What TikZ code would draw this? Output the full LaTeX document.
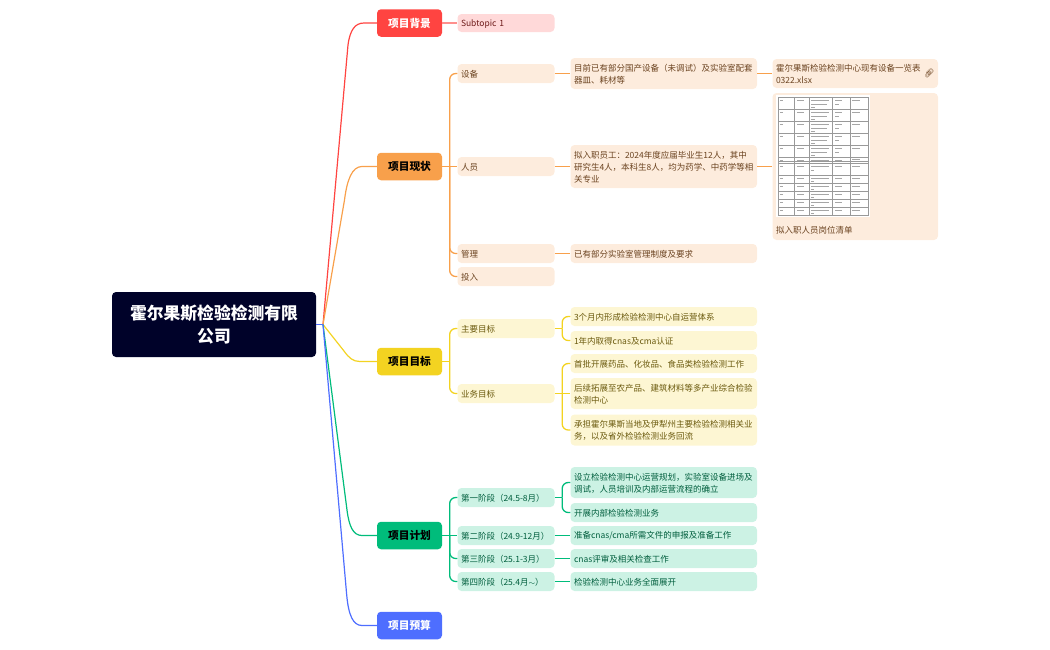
\documentclass[tikz,border=0pt]{standalone}
\usepackage{fontspec}
\setmainfont{Noto Sans CJK SC}
\newfontfamily\iconfont{Noto Emoji}
\definecolor{cRed}{HTML}{FF4441}
\definecolor{cOrange}{HTML}{F8A04B}
\definecolor{cYellow}{HTML}{F3D321}
\definecolor{cGreen}{HTML}{00BC7B}
\definecolor{cBlue}{HTML}{4E6EFF}
\definecolor{cRoot}{HTML}{000229}
\definecolor{fRed}{HTML}{FFD9D9}
\definecolor{fOrange}{HTML}{FDECDD}
\definecolor{fYellow}{HTML}{FDF6D3}
\definecolor{fGreen}{HTML}{CCF2E4}
\definecolor{tRed}{HTML}{6E1B1A}
\definecolor{tOrange}{HTML}{6B4320}
\definecolor{tYellow}{HTML}{6B5A0E}
\definecolor{tGreen}{HTML}{005E3D}
\tikzset{
  rootbox/.style={rectangle,rounded corners=4pt,fill=cRoot,text=white,minimum width=204pt,minimum height=65pt,inner sep=0pt,text width=196pt,align=center,font=\fontsize{16.8}{23.8}\selectfont\bfseries},
  mainbox/.style={rectangle,rounded corners=4pt,minimum width=65pt,minimum height=27.5pt,inner sep=0pt,align=center,font=\fontsize{10.7}{13}\selectfont\bfseries},
  subbox/.style 2 args={rectangle,rounded corners=4pt,fill=#1,text=#2,inner xsep=3.5pt,inner ysep=0pt,align=left,font=\fontsize{8.5}{12}\selectfont,execute at begin node={\rule{0pt}{8pt}}},
  twoR/.style={subbox={fRed}{tRed},text width=90pt,minimum height=18pt},
  twoO/.style={subbox={fOrange}{tOrange},text width=90pt,minimum height=19pt},
  twoY/.style={subbox={fYellow}{tYellow},text width=90pt,minimum height=19pt},
  twoG/.style={subbox={fGreen}{tGreen},text width=90pt,minimum height=19pt},
  threeO/.style={subbox={fOrange}{tOrange},text width=179.5pt,minimum height=19pt},
  threeY/.style={subbox={fYellow}{tYellow},text width=179.5pt,minimum height=19pt},
  threeG/.style={subbox={fGreen}{tGreen},text width=179.5pt,minimum height=19pt},
  fourO/.style={subbox={fOrange}{tOrange},text width=158.5pt},
  branch/.style={line width=1.2pt},
  link/.style={line width=1.3pt,rounded corners=6pt},
  cell/.style={line width=1pt,draw=black!35},
  grid/.style={line width=.45pt,draw=black!40}
}
\begin{document}
\begin{tikzpicture}[x=1pt,y=-1pt]
\useasboundingbox (0,0) rectangle (1050,649);
\node[rootbox] (root) at (214,324.5) {霍尔果斯检验检测有限\\公司};
\coordinate (hub) at (323,324.5);
\node[mainbox,fill=cRed,text=white] (bg) at (409.5,23) {项目背景};
\node[mainbox,fill=cOrange,text=black] (st) at (409.5,166.5) {项目现状};
\node[mainbox,fill=cYellow,text=black] (gl) at (409.5,361.5) {项目目标};
\node[mainbox,fill=cGreen,text=black] (pl) at (409.5,535.5) {项目计划};
\node[mainbox,fill=cBlue,text=white] (bd) at (409.5,625.5) {项目预算};
% level 2
\node[twoR] (s1) at (506,23) {Subtopic 1};
\node[twoO] (eq) at (506,73.5) {设备};
\node[twoO] (pe) at (506,166.5) {人员};
\node[twoO] (mg) at (506,253.5) {管理};
\node[twoO] (inv) at (506,276.5) {投入};
\node[twoY] (mt) at (506,328.5) {主要目标};
\node[twoY] (bt) at (506,393.5) {业务目标};
\node[twoG] (p1) at (506,497.5) {第一阶段（24.5-8月）};
\node[twoG] (p2) at (506,535.5) {第二阶段（24.9-12月）};
\node[twoG] (p3) at (506,558.5) {第三阶段（25.1-3月）};
\node[twoG] (p4) at (506,581.5) {第四阶段（25.4月$\sim$）};
% level 3
\node[threeO,minimum height=31pt] (eq1) at (663.75,73.5) {目前已有部分国产设备（未调试）及实验室配套\\器皿、耗材等};
\node[threeO,minimum height=43pt] (pe1) at (663.75,166.5) {拟入职员工：2024年度应届毕业生12人，其中\\研究生4人，本科生8人，均为药学、中药学等相\\关专业};
\node[threeO] (mg1) at (663.75,253.5) {已有部分实验室管理制度及要求};
\node[threeY] (mt1) at (663.75,316.5) {3个月内形成检验检测中心自运营体系};
\node[threeY] (mt2) at (663.75,340.5) {1年内取得cnas及cma认证};
\node[threeY] (bt1) at (663.75,363.5) {首批开展药品、化妆品、食品类检验检测工作};
\node[threeY,minimum height=31pt] (bt2) at (663.75,393.5) {后续拓展至农产品、建筑材料等多产业综合检验\\检测中心};
\node[threeY,minimum height=31pt] (bt3) at (663.75,430) {承担霍尔果斯当地及伊犁州主要检验检测相关业\\务，以及省外检验检测业务回流};
\node[threeG,minimum height=31pt] (p11) at (663.75,482.5) {设立检验检测中心运营规划，实验室设备进场及\\调试，人员培训及内部运营流程的确立};
\node[threeG] (p12) at (663.75,512.5) {开展内部检验检测业务};
\node[threeG] (p21) at (663.75,535.5) {准备cnas/cma所需文件的申报及准备工作};
\node[threeG] (p31) at (663.75,558.5) {cnas评审及相关检查工作};
\node[threeG] (p41) at (663.75,581.5) {检验检测中心业务全面展开};
% level 4
\node[fourO,minimum height=29pt] (file) at (855.25,73.5) {霍尔果斯检验检测中心现有设备一览表\\0322.xlsx};
\node[rectangle,rounded corners=4pt,fill=fOrange,minimum width=165.5pt,minimum height=147pt,inner sep=0pt] (pic) at (855.25,166.5) {};
\node[anchor=west,inner sep=0pt,text=tOrange,font=\fontsize{8.5}{12}\selectfont] (piccap) at (776,230.5) {拟入职人员岗位清单};
\node[inner sep=0pt,text=tOrange,font=\iconfont\fontsize{8}{8}\selectfont,rotate=90] (clip) at (929.5,73) {\symbol{"1F4CE}};
% embedded table picture
\fill[white] (776,95) rectangle (870,217);
\foreach \yy in {97.3,109.3,121.3,133.3,145.3,157.3,161.7,163.3,175.3,183.3,191,199,207,215.7}
  \draw[grid] (778.3,\yy) -- (868.3,\yy);
\foreach \xx in {778.3,794,809.3,832.7,850.7,868.3}
  \draw[grid] (\xx,97.3) -- (\xx,215.7);
\foreach \yy in {99,111,123,135,147,158.5,165,177,185,193,201,209}
  \foreach \xa/\xb in {780/783,797/804,811/829,835/842}
    \draw[cell] (\xa,\yy+1.5) -- (\xb,\yy+1.5);
\foreach \yy in {103,115,127,139,151}
  \foreach \xa/\xb in {811/827,835/839}
    \draw[cell] (\xa,\yy+1.5) -- (\xb,\yy+1.5);
\foreach \yy in {107,119,131,143,155}
  \draw[cell] (811,\yy) -- (815,\yy);
\foreach \yy in {100.5,112.5,124.5,136.5,148.5,159.5,166.5,178.5,186.5,194.5,202.5,210.5}
  \draw[cell] (852,\yy) -- (860,\yy);
\foreach \yy in {170.5,181.5,189.5,197.5,205.5,213.5}
  \draw[cell] (811,\yy) -- (814,\yy);
% root branches
\draw[branch,cRed] (hub) -- (348,45) .. controls (350,30) and (355,23) .. (364,23) -- (bg.west);
\draw[branch,cOrange] (hub) -- (344.5,200) .. controls (347,180) and (352,166.5) .. (362,166.5) -- (st.west);
\draw[branch,cYellow] (hub) -- (344,351) .. controls (349,358) and (353,361.5) .. (360,361.5) -- (gl.west);
\draw[branch,cGreen] (hub) -- (347,510) .. controls (349,526) and (353,535.5) .. (362,535.5) -- (pl.west);
\draw[branch,cBlue] (hub) -- (346.7,595) .. controls (348.5,615) and (353,625.5) .. (362,625.5) -- (bd.west);
\draw[branch,cBlue] (root.east) -- (hub);
% level 1 to 2
\draw[link,cRed!60] (bg.east) -- (s1.west);
\draw[link,cOrange] (st.east) -- (pe.west);
\draw[link,cOrange] (st.east) ++(7.5,0) |- (eq.west);
\draw[link,cOrange] (st.east) ++(7.5,0) |- (mg.west);
\draw[link,cOrange] (st.east) ++(7.5,0) |- (inv.west);
\draw[link,cYellow] (gl.east) -- ++(7.5,0);
\draw[link,cYellow] (gl.east) ++(7.5,0) |- (mt.west);
\draw[link,cYellow] (gl.east) ++(7.5,0) |- (bt.west);
\draw[link,cGreen] (pl.east) -- (p2.west);
\draw[link,cGreen] (pl.east) ++(7.5,0) |- (p1.west);
\draw[link,cGreen] (pl.east) ++(7.5,0) |- (p3.west);
\draw[link,cGreen] (pl.east) ++(7.5,0) |- (p4.west);
% level 2 to 3
\draw[link,cOrange] (eq.east) -- (eq1.west);
\draw[link,cOrange] (pe.east) -- (pe1.west);
\draw[link,cOrange] (mg.east) -- (mg1.west);
\draw[link,cYellow] (mt.east) -- ++(7.5,0);
\draw[link,cYellow] (mt.east) ++(7.5,0) |- (mt1.west);
\draw[link,cYellow] (mt.east) ++(7.5,0) |- (mt2.west);
\draw[link,cYellow] (bt.east) -- (bt2.west);
\draw[link,cYellow] (bt.east) ++(7.5,0) |- (bt1.west);
\draw[link,cYellow] (bt.east) ++(7.5,0) |- (bt3.west);
\draw[link,cGreen] (p1.east) -- ++(7.5,0);
\draw[link,cGreen] (p1.east) ++(7.5,0) |- (p11.west);
\draw[link,cGreen] (p1.east) ++(7.5,0) |- (p12.west);
\draw[link,cGreen] (p2.east) -- (p21.west);
\draw[link,cGreen] (p3.east) -- (p31.west);
\draw[link,cGreen] (p4.east) -- (p41.west);
% level 3 to 4
\draw[link,cOrange] (eq1.east) -- (file.west);
\draw[link,cOrange] (pe1.east) -- (pic.west);
\end{tikzpicture}
\end{document}
